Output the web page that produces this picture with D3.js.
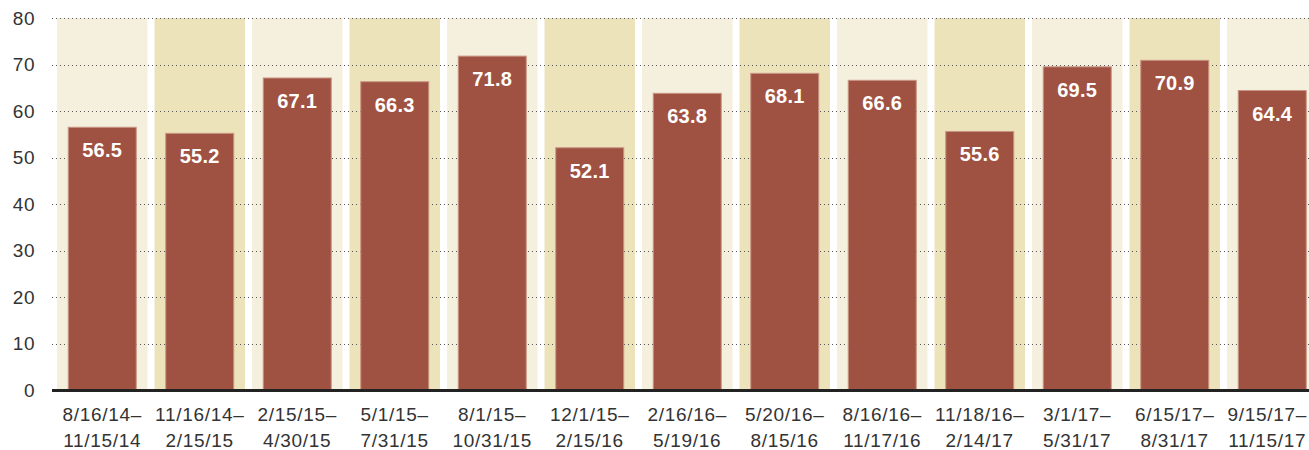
<!DOCTYPE html>
<html>
<head>
<meta charset="utf-8">
<script src="https://cdn.jsdelivr.net/npm/d3@7"></script>
<style>
  html, body { margin: 0; padding: 0; background: #fff; }
  svg { display: block; }
  text { font-family: "Liberation Sans", Arial, sans-serif; }
</style>
</head>
<body>
<svg id="chart" width="1309" height="450"></svg>
<script>
// Quarterly periods and their values
const periodStarts = ["8/16/14–", "11/16/14–", "2/15/15–", "5/1/15–", "8/1/15–", "12/1/15–", "2/16/16–",
  "5/20/16–", "8/16/16–", "11/18/16–", "3/1/17–", "6/15/17–", "9/15/17–"];
const periodEnds = ["11/15/14", "2/15/15", "4/30/15", "7/31/15", "10/31/15", "2/15/16", "5/19/16",
  "8/15/16", "11/17/16", "2/14/17", "5/31/17", "8/31/17", "11/15/17"];
const values = [56.5, 55.2, 67.1, 66.3, 71.8, 52.1, 63.8, 68.1, 66.6, 55.6, 69.5, 70.9, 64.4];
const yTicks = [0, 10, 20, 30, 40, 50, 60, 70, 80];

const svg = d3.select("#chart");
const W = 1309;
const margin = { left: 52 };
const y0 = 390, yTop = 18;

const idx = d3.range(values.length);
const x = d3.scaleBand()
  .domain(idx)
  .range([53.5, 53.5 + 97.5 * values.length])
  .paddingInner(7 / 97.5)
  .paddingOuter(3.5 / 97.5);

const y = d3.scaleLinear().domain([0, 80]).range([y0, yTop]);

// Alternating background bands
svg.append("g").selectAll("rect")
  .data(idx)
  .join("rect")
  .attr("x", d => x(d))
  .attr("width", x.bandwidth())
  .attr("y", y(80))
  .attr("height", y(0) - y(80))
  .attr("fill", d => d % 2 === 0 ? "#f5efde" : "#ece3bb");

// Dotted gridlines
svg.append("g").selectAll("line")
  .data(yTicks.filter(t => t > 0))
  .join("line")
  .attr("x1", margin.left)
  .attr("x2", W)
  .attr("y1", d => Math.round(y(d)) + 0.5)
  .attr("y2", d => Math.round(y(d)) + 0.5)
  .attr("stroke", "#555")
  .attr("stroke-width", 1)
  .attr("stroke-dasharray", "1,3");

// Bars
const barW = 68;
svg.append("g").selectAll("rect")
  .data(values)
  .join("rect")
  .attr("x", (d, i) => x(i) + (x.bandwidth() - barW) / 2)
  .attr("width", barW)
  .attr("y", d => y(d))
  .attr("height", d => y(0) - y(d))
  .attr("fill", "#a05242")
  .attr("stroke", "#c99584")
  .attr("stroke-width", 1);

// Value labels inside bars
svg.append("g").selectAll("text")
  .data(values)
  .join("text")
  .attr("x", (d, i) => x(i) + x.bandwidth() / 2)
  .attr("y", d => y(d) + 30)
  .attr("text-anchor", "middle")
  .attr("fill", "#fff")
  .attr("font-size", 20)
  .attr("font-weight", "bold")
  .attr("letter-spacing", 0.3)
  .text(d => d.toFixed(1));

// Baseline
svg.append("line")
  .attr("x1", margin.left)
  .attr("x2", W)
  .attr("y1", y(0) + 0.5)
  .attr("y2", y(0) + 0.5)
  .attr("stroke", "#222")
  .attr("stroke-width", 3);

// Y axis labels
const yAxis = d3.axisLeft(y).tickValues(yTicks).tickSize(0).tickPadding(0);
const yg = svg.append("g").attr("transform", "translate(35,0)").call(yAxis);
yg.select(".domain").remove();
yg.selectAll("text")
  .attr("font-size", 19)
  .attr("fill", "#333")
  .attr("letter-spacing", 0.5)
  .attr("font-family", "'Liberation Sans', Arial, sans-serif");

// X axis labels (two lines), kept inside the right edge
const xl = svg.append("g").selectAll("text")
  .data(idx)
  .join("text")
  .attr("text-anchor", "middle")
  .attr("font-size", 19)
  .attr("letter-spacing", 0.7)
  .attr("fill", "#333");
xl.append("tspan")
  .attr("x", d => x(d) + x.bandwidth() / 2)
  .attr("y", 421)
  .text(d => periodStarts[d]);
xl.append("tspan")
  .attr("x", d => x(d) + x.bandwidth() / 2)
  .attr("y", 447)
  .text(d => periodEnds[d]);
xl.each(function() {
  const b = this.getBBox();
  const shift = Math.min(0, W - 2 - (b.x + b.width));
  if (shift < 0) {
    d3.select(this).selectAll("tspan").attr("x", function() {
      return +this.getAttribute("x") + shift;
    });
  }
});
</script>
</body>
</html>
